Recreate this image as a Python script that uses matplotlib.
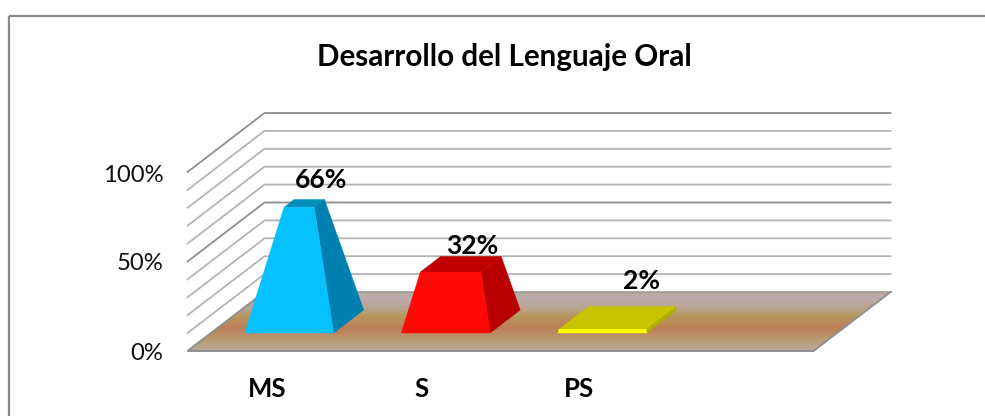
import numpy as np
import matplotlib
matplotlib.use("Agg")
import matplotlib.pyplot as plt
from matplotlib.patches import Polygon, Rectangle
from matplotlib.colors import LinearSegmentedColormap

title = "Desarrollo del Lenguaje Oral"
categories = ["MS", "S", "PS"]
values = [66, 32, 2]
value_labels = ["66%", "32%", "2%"]
y_ticks = [0, 50, 100]
grid_values = [0, 10, 20, 30, 40, 50, 60, 70, 80, 90, 100]
front_colors = ["#05C1FF", "#FF0808", "#FFFF00"]
side_colors = ["#0080B0", "#B80000", "#B0B000"]
top_colors = ["#0090BC", "#BE0000", "#C8C400"]

plt.rcParams["font.family"] = ["Lato", "DejaVu Sans"]
W, H = 985, 416
fig = plt.figure(figsize=(W / 100, H / 100), dpi=100)
ax = fig.add_axes([0, 0, 1, 1])
ax.set_xlim(0, W)
ax.set_ylim(H, 0)
ax.axis("off")

# oblique projection: category position, value, depth -> pixels
X0, Y0, CW, VH, DX, DY = 187.5, 351, 156.5, 1.79, 77, 59
N_SLOTS = 4
def P(c, v, d):
    return (X0 + CW * c + DX * d, Y0 - VH * v - DY * d)

# frame
ax.plot([8.5, 8.5], [H, 15.5], color="#8a8a8a", lw=1.6, solid_capstyle="butt")
ax.plot([8.5, W], [15.5, 15.5], color="#8a8a8a", lw=1.6, solid_capstyle="butt")

# grid
for g in grid_values[1:]:
    major = g in y_ticks
    col = "#8f8f8f" if major else "#b4b4b4"
    pts = [P(0, g, 0), P(0, g, 1), P(N_SLOTS, g, 1)]
    ax.plot(*zip(*pts), color=col, lw=1.3, zorder=1, solid_joinstyle="miter")

# floor with gradient
stops = [(0.0, "#B5A99C"), (0.10, "#BDAAAE"), (0.30, "#B9A38A"), (0.40, "#B8985E"),
         (0.62, "#BC7F58"), (0.80, "#B99A70"), (1.0, "#B8AA9F")]
cmap = LinearSegmentedColormap.from_list("floor", stops)
floor_pts = [P(0, 0, 0), P(N_SLOTS, 0, 0), P(N_SLOTS, 0, 1), P(0, 0, 1)]
yb, yt = floor_pts[0][1], floor_pts[2][1]
im = ax.imshow(np.linspace(0, 1, 200).reshape(-1, 1), cmap=cmap, aspect="auto",
               extent=[X0, X0 + CW * N_SLOTS + DX, yb, yt], zorder=2)
im.set_clip_path(Polygon(floor_pts, transform=ax.transData))
ax.set_xlim(0, W)
ax.set_ylim(H, 0)
ax.plot(*zip(floor_pts[2], floor_pts[3]), color="#9c9c94", lw=1.2, zorder=3)
ax.plot(*zip(floor_pts[3], floor_pts[0], floor_pts[1], floor_pts[2]), color="#8f8f8f", lw=1.4,
        zorder=3, solid_joinstyle="miter")

# pyramids, truncated at the value (apex at 100)
HW, HD, DC = 0.284, 0.195, 0.5
for i, v in enumerate(values):
    c = i + 0.5
    s = 1 - v / 100
    def corner(sx, sd, level):
        k = s if level else 1
        return P(c + sx * HW * k, v if level else 0, DC + sd * HD * k)
    fl, fr = corner(-1, -1, 0), corner(1, -1, 0)
    br = corner(1, 1, 0)
    tfl, tfr = corner(-1, -1, 1), corner(1, -1, 1)
    tbr, tbl = corner(1, 1, 1), corner(-1, 1, 1)
    ax.add_patch(Polygon([fr, br, tbr, tfr], fc=side_colors[i], ec=side_colors[i], lw=0.3, zorder=4))
    ax.add_patch(Polygon([tfl, tfr, tbr, tbl], fc=top_colors[i], ec=top_colors[i], lw=0.3, zorder=4))
    ax.add_patch(Polygon([fl, fr, tfr, tfl], fc=front_colors[i], ec=front_colors[i], lw=0.3, zorder=5))

# texts
ax.text(504.5, 57, title, ha="center", va="center", fontsize=21.3, fontweight="bold", color="black")
tick_y = [354, 264, 175]
for t, y in zip(y_ticks, tick_y):
    ax.text(163.5, y, f"{t}%", ha="right", va="center", fontsize=17.2, color="#111111")
cat_x = [267, 422, 579]
for x, name in zip(cat_x, categories):
    ax.text(x, 389, name, ha="center", va="center", fontsize=18.5, fontweight="bold", color="black")
label_xy = [(321.5, 180), (472, 246), (642, 281)]
for (x, y), lab in zip(label_xy, value_labels):
    ax.text(x, y, lab, ha="center", va="center", fontsize=19, fontweight="bold", color="black", zorder=6)

fig.savefig("out.png", dpi=100)
